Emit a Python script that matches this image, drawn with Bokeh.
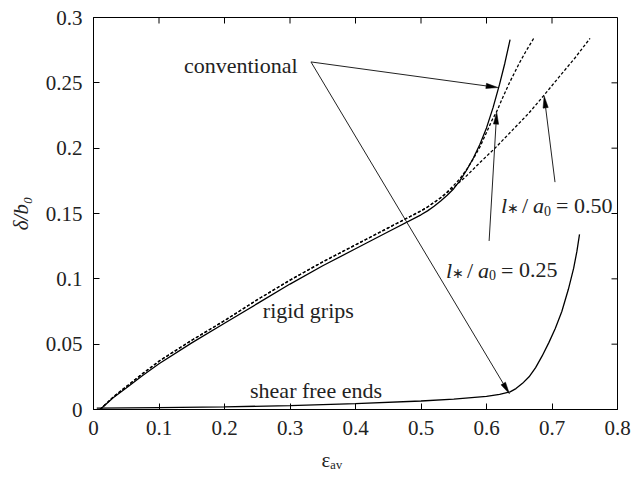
import numpy as np
from bokeh.plotting import figure
from bokeh.models import Range1d, LinearAxis, Label, FixedTicker
from bokeh.embed import file_html
from bokeh.resources import INLINE

# ---- data ---------------------------------------------------------------
# conventional model, rigid grips (solid)
eps_conv = [0.01, 0.03, 0.05, 0.075, 0.10, 0.15, 0.20, 0.25, 0.30, 0.35, 0.40, 0.45, 0.50,
            0.51, 0.52, 0.53, 0.54, 0.55, 0.56, 0.57, 0.58, 0.59, 0.60, 0.61, 0.62, 0.628, 0.636]
delta_conv = [0.0, 0.009, 0.0165, 0.026, 0.035, 0.051, 0.066, 0.081, 0.096, 0.110, 0.123, 0.136, 0.149,
              0.152, 0.1555, 0.1595, 0.164, 0.169, 0.1755, 0.1835, 0.1925, 0.203, 0.2155, 0.231, 0.249,
              0.265, 0.283]

# length-scale model, l*/a0 = 0.25 (dashed)
eps_l25 = [0.01, 0.03, 0.05, 0.075, 0.10, 0.15, 0.20, 0.25, 0.30, 0.35, 0.40, 0.45, 0.50,
           0.51, 0.52, 0.53, 0.54, 0.55, 0.56, 0.57, 0.58, 0.59, 0.60, 0.608, 0.616, 0.625,
           0.635, 0.65, 0.66, 0.672]
delta_l25 = [0.0, 0.0095, 0.0175, 0.0275, 0.037, 0.053, 0.068, 0.084, 0.099, 0.113, 0.126, 0.139, 0.152,
             0.155, 0.1585, 0.162, 0.1665, 0.1715, 0.177, 0.184, 0.192, 0.201, 0.212, 0.221, 0.2285,
             0.239, 0.250, 0.265, 0.274, 0.284]

# length-scale model, l*/a0 = 0.50 (dashed)
eps_l50 = [0.01, 0.03, 0.05, 0.075, 0.10, 0.15, 0.20, 0.25, 0.30, 0.35, 0.40, 0.45, 0.50,
           0.51, 0.52, 0.53, 0.54, 0.55, 0.57, 0.59, 0.613, 0.64, 0.665, 0.687, 0.71, 0.735, 0.758]
delta_l50 = [0.0, 0.0095, 0.0175, 0.0275, 0.037, 0.053, 0.068, 0.084, 0.099, 0.113, 0.126, 0.139, 0.152,
             0.155, 0.1585, 0.162, 0.166, 0.170, 0.179, 0.189, 0.200, 0.214, 0.227, 0.240, 0.254,
             0.269, 0.284]

# conventional model, shear free ends (solid)
eps_sf = [0.005, 0.1, 0.2, 0.3, 0.4, 0.5, 0.55, 0.6, 0.62, 0.636, 0.645, 0.655, 0.665, 0.675,
          0.685, 0.695, 0.705, 0.715, 0.725, 0.733, 0.738, 0.742]
delta_sf = [0.001, 0.0015, 0.002, 0.003, 0.0045, 0.0065, 0.008, 0.010, 0.0115, 0.0135, 0.016, 0.020,
            0.025, 0.032, 0.041, 0.051, 0.062, 0.075, 0.092, 0.108, 0.121, 0.134]

x_ticks = [0.0, 0.1, 0.2, 0.3, 0.4, 0.5, 0.6, 0.7, 0.8]
x_tick_labels = ["0", "0.1", "0.2", "0.3", "0.4", "0.5", "0.6", "0.7", "0.8"]
y_ticks = [0.0, 0.05, 0.10, 0.15, 0.20, 0.25, 0.30]
y_tick_labels = ["0", "0.05", "0.1", "0.15", "0.2", "0.25", "0.3"]

# annotation arrows: (tail x, tail y, tip x, tip y)
arrows = [
    (0.332, 0.266, 0.6176, 0.2464),   # conventional -> rigid grips curve
    (0.332, 0.266, 0.635, 0.012),     # conventional -> shear free ends curve
    (0.7046, 0.174, 0.688, 0.240),    # l*/a0 = 0.50
    (0.604, 0.129, 0.6156, 0.2275),   # l*/a0 = 0.25
]

# ---- figure -------------------------------------------------------------
W, H = 632, 483
ML, MR, MT, MB = 93, 15, 17, 74
X0, X1, Y0, Y1 = 0.0, 0.8, 0.0, 0.3
SERIF = "Liberation Serif"
INK = "#222222"
TICK = 6
NBSP = "\u00a0"

p = figure(width=W, height=H, output_backend="svg", toolbar_location=None,
           x_range=Range1d(X0, X1), y_range=Range1d(Y0, Y1),
           min_border_left=ML, min_border_right=MR, min_border_top=MT, min_border_bottom=MB,
           x_axis_location=None, y_axis_location=None)
p.grid.visible = False
p.outline_line_color = "black"
p.outline_line_width = 1
p.background_fill_color = "white"
p.border_fill_color = "white"


def style_axis(ax, ticks, labels, title):
    ax.ticker = FixedTicker(ticks=ticks)
    ax.major_label_overrides = {t: s for t, s in zip(ticks, labels)}
    ax.major_tick_in = TICK
    ax.major_tick_out = 0
    ax.minor_tick_line_color = None
    ax.axis_line_color = "black"
    ax.major_tick_line_color = "black"
    ax.major_label_text_font = SERIF
    ax.major_label_text_color = INK
    ax.major_label_text_font_size = "21px"
    ax.major_label_standoff = 11
    ax.axis_label = title
    ax.axis_label_text_font = SERIF
    ax.axis_label_text_color = INK
    ax.axis_label_standoff = 10


bottom = LinearAxis()
# trailing no-break spaces nudge the centred title a little to the left
style_axis(bottom, x_ticks, x_tick_labels, "\u03b5\u2090\u1d65" + NBSP * 9)
bottom.axis_label_text_font_size = "21px"
bottom.axis_label_text_font_style = "normal"
left = LinearAxis()
style_axis(left, y_ticks, y_tick_labels, "\u03b4/b\u2080")
left.axis_label_text_font_size = "21px"
left.axis_label_text_font_style = "italic"
p.add_layout(bottom, "below")
p.add_layout(left, "left")

# mirror ticks on the top and right edges of the frame
fw, fh = W - ML - MR, H - MT - MB
sx, sy = fw / (X1 - X0), fh / (Y1 - Y0)
p.segment(x_ticks, [Y1] * len(x_ticks), x_ticks, [Y1 - TICK / sy] * len(x_ticks),
          line_color="black", line_width=1)
p.segment([X1] * len(y_ticks), y_ticks, [X1 - TICK / sx] * len(y_ticks), y_ticks,
          line_color="black", line_width=1)

# ---- curves -------------------------------------------------------------
p.line(eps_conv, delta_conv, line_color="black", line_width=1.3)
p.line(eps_sf, delta_sf, line_color="black", line_width=1.3)
p.line(eps_l25, delta_l25, line_color="black", line_width=1.3, line_dash="3 2")
p.line(eps_l50, delta_l50, line_color="black", line_width=1.3, line_dash="3 2")

# ---- arrows with slender filled heads ------------------------------------
head_len, head_half = 12.0, 2.6
xs0, ys0, xs1, ys1, hx, hy = [], [], [], [], [], []
for (xa, ya, xb, yb) in arrows:
    dx, dy = (xb - xa) * sx, (yb - ya) * sy
    n = np.hypot(dx, dy)
    ux, uy = dx / n, dy / n
    bx, by = xb * sx - head_len * ux, yb * sy - head_len * uy
    nx, ny = -uy, ux
    hx.append([xb, (bx + head_half * nx) / sx, (bx - head_half * nx) / sx])
    hy.append([yb, (by + head_half * ny) / sy, (by - head_half * ny) / sy])
    xs0.append(xa); ys0.append(ya); xs1.append(bx / sx); ys1.append(by / sy)
p.segment(xs0, ys0, xs1, ys1, line_color=INK, line_width=1.0)
p.patches(hx, hy, fill_color="black", line_color="black", line_width=0.5)

# ---- text ---------------------------------------------------------------
FS = "22px"
SUB = "14px"


def lab(x, y, text, size=FS, style="normal", align="left", baseline="alphabetic",
        dx=0, dy=0):
    p.add_layout(Label(x=x, y=y, text=text, x_offset=dx, y_offset=dy,
                       text_font=SERIF, text_font_size=size, text_font_style=style,
                       text_align=align, text_baseline=baseline, text_color=INK))


lab(0.138, 0.263, "conventional", baseline="middle")
lab(0.328, 0.0758, "rigid grips", align="center", baseline="middle")
lab(0.3397, 0.0145, "shear free ends", align="center", baseline="middle")


def ratio_label(x, y, val):
    # l* / a0 = val, assembled piece by piece
    lab(x, y, "l", style="italic")
    lab(x, y, "\u2217", size=SUB, dx=6, dy=-3)
    lab(x, y, "/", dx=21)
    lab(x, y, "a", style="italic", dx=32)
    lab(x, y, "0", size=SUB, dx=43, dy=-5)
    lab(x, y, "=", dx=55)
    lab(x, y, val, dx=73)


ratio_label(0.622, 0.156, "0.50")
ratio_label(0.538, 0.1064, "0.25")

open("out.html", "w").write(file_html(p, INLINE))
